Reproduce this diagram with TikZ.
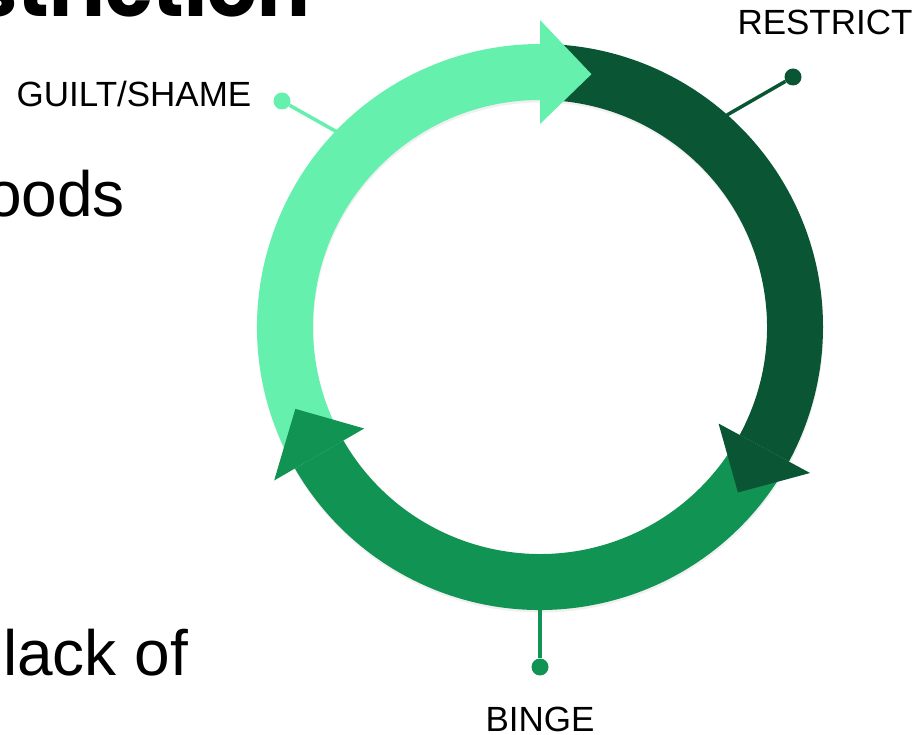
\documentclass[tikz,border=0pt]{standalone}
\usepackage{fontspec}
\setmainfont{Liberation Sans}
\newfontfamily\headfont{Poppins}
\usetikzlibrary{positioning,shadows}

\definecolor{guiltgreen}{HTML}{66F0AE}
\definecolor{restrictgreen}{HTML}{0A5634}
\definecolor{bingegreen}{HTML}{119453}

\newcommand{\ringband}[3]{\fill[#1,bandshadow] (#2:283pt) arc[start angle=#2,end angle=#3,radius=283pt] -- (#3:227pt) arc[start angle=#3,end angle=#2,radius=227pt] -- cycle;}
\newcommand{\ringhead}[2]{\fill[#1] (#2:203pt) -- (#2:307pt) -- ({#2-11.5}:258pt) -- cycle;}

\begin{document}
\begin{tikzpicture}[x=1pt,y=1pt,
  bandshadow/.style={drop shadow={shadow xshift=0.5pt,shadow yshift=-2.5pt,opacity=.12}},
  pindot/.style={circle,fill=#1,inner sep=0pt,minimum size=17pt},
  pinline/.style={draw=#1,line width=3.5pt},
  cyclelabel/.style={font=\fontsize{35}{42}\selectfont,inner sep=0pt,anchor=base},
  slidetext/.style={font=\fontsize{64}{76}\selectfont,inner sep=0pt}]

\useasboundingbox (0,0) rectangle (913,734);
\clip (0,0) rectangle (913,734);

\node[slidetext,font=\headfont\bfseries\fontsize{78}{90}\selectfont,anchor=base east] (title) at (310,717) {striction};
\node[slidetext,anchor=base east] (foods) at (125,517) {oods};
\node[slidetext,anchor=base west] (lackof) at (3,59) {lack of};

\begin{scope}[shift={(540,407)}]
\ringband{guiltgreen}{210}{90}
\ringband{restrictgreen}{90}{-28.4}
\ringband{bingegreen}{-28.4}{-150}
\ringhead{guiltgreen}{90}
\ringhead{restrictgreen}{-28.4}
\ringhead{bingegreen}{210}
\end{scope}

\coordinate (restrict-edge) at (727,619);
\coordinate (guilt-edge) at (337,602);
\coordinate (binge-edge) at (540,124);

\node[pindot=restrictgreen] (restrict-dot) at (793,657) {};
\node[pindot=guiltgreen] (guilt-dot) at (282,633) {};
\node[pindot=bingegreen] (binge-dot) at (540,67) {};

\draw[pinline=restrictgreen] (restrict-edge) -- (restrict-dot);
\draw[pinline=guiltgreen] (guilt-edge) -- (guilt-dot);
\draw[pinline=bingegreen] (binge-edge) -- (binge-dot);

\node[cyclelabel] (restrict) at (825,699) {RESTRICT};
\node[cyclelabel] (guilt) at (134,627) {GUILT/SHAME};
\node[cyclelabel] (binge) at (540,3) {BINGE};

\end{tikzpicture}
\end{document}
